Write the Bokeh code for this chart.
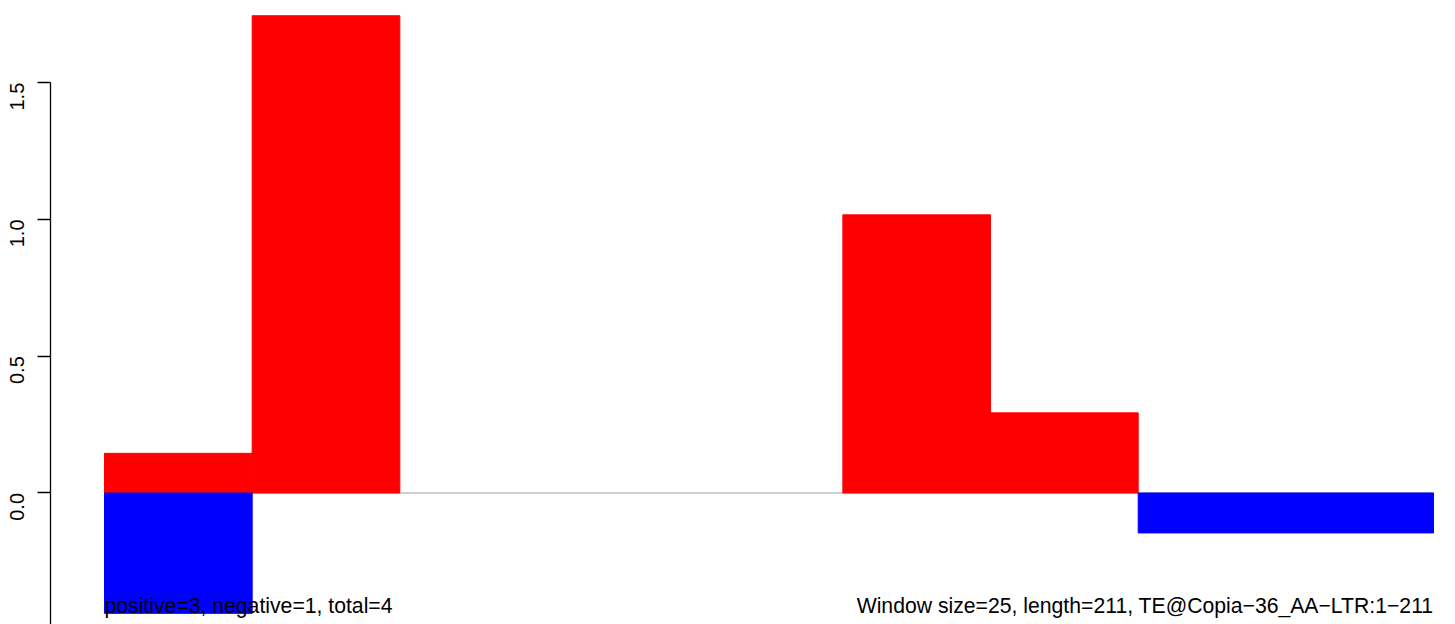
import math
from bokeh.plotting import figure
from bokeh.models import Range1d, ColumnDataSource, FixedTicker, Label, PrintfTickFormatter
from bokeh.embed import file_html
from bokeh.resources import INLINE

# data: 9 windows of size 25 over length 211
windows = [1, 2, 3, 4, 5, 6, 7, 8, 9]
positive = [0.145, 1.745, 0.0, 0.0, 0.0, 1.017, 0.293, 0.0, 0.0]
negative = [-0.44, 0.0, 0.0, 0.0, 0.0, 0.0, 0.0, -0.146, -0.146]
y_ticks = [-0.5, 0.0, 0.5, 1.0, 1.5]
left_text = "positive=3, negative=1, total=4"
right_text = "Window size=25, length=211, TE@Copia\u221236_AA\u2212LTR:1\u2212211"

FONT = "Liberation Sans"

p = figure(width=1455, height=624, output_backend="svg", toolbar_location=None,
           x_range=Range1d(-0.3657, 9.1488), y_range=Range1d(-0.4808, 1.8007),
           min_border_left=50, min_border_right=0, min_border_top=0, min_border_bottom=0)
p.outline_line_color = None
p.xaxis.visible = False
p.xgrid.visible = False
p.ygrid.visible = False

ax = p.yaxis[0]
ax.ticker = FixedTicker(ticks=y_ticks)
ax.formatter = PrintfTickFormatter(format="%.1f")
ax.bounds = (-0.5, 1.5)
ax.major_tick_in = 0
ax.major_tick_out = 13
ax.minor_tick_in = 0
ax.minor_tick_out = 0
ax.axis_line_width = 1.3
ax.major_tick_line_width = 1.3
ax.major_label_orientation = math.pi / 2
ax.major_label_standoff = 20
ax.major_label_text_font = FONT
ax.major_label_text_font_size = "20px"
ax.major_label_text_color = "black"

lefts = [w - 1 for w in windows]
rights = [w for w in windows]

# baseline
p.line(x=[0, len(windows)], y=[0, 0], line_color="#A0A0A0", line_width=1.2)

src = ColumnDataSource(dict(
    left=lefts, right=rights, pos=positive, neg=negative,
    zero=[0.0] * len(windows),
    pos_line=[1.0 if v != 0 else 0.0 for v in positive],
    neg_line=[1.0 if v != 0 else 0.0 for v in negative],
))
p.quad(left="left", right="right", bottom="zero", top="pos", source=src,
       fill_color="#FF0000", line_color="#FF0000", line_width=1.0,
       fill_alpha="pos_line", line_alpha="pos_line")
p.quad(left="left", right="right", bottom="neg", top="zero", source=src,
       fill_color="#0000FF", line_color="#0000FF", line_width=1.0,
       fill_alpha="neg_line", line_alpha="neg_line")

# tick label for -0.5 (falls just below the visible area, as in the reference)
p.add_layout(Label(x=-36, x_units="screen", y=-0.5, text="\u22120.5", angle=math.pi / 2,
                   text_font=FONT, text_font_size="20px", text_align="center",
                   text_baseline="middle", text_color="black"))

ty = -0.412
p.add_layout(Label(x=0, y=ty, text=left_text, text_font=FONT, text_font_size="21.2px",
                   text_align="left", text_baseline="middle", text_color="black"))
p.add_layout(Label(x=len(windows), y=ty, text=right_text, text_font=FONT,
                   text_font_size="21.2px", text_align="right", text_baseline="middle",
                   text_color="black"))

open("out.html", "w").write(file_html(p, INLINE))
